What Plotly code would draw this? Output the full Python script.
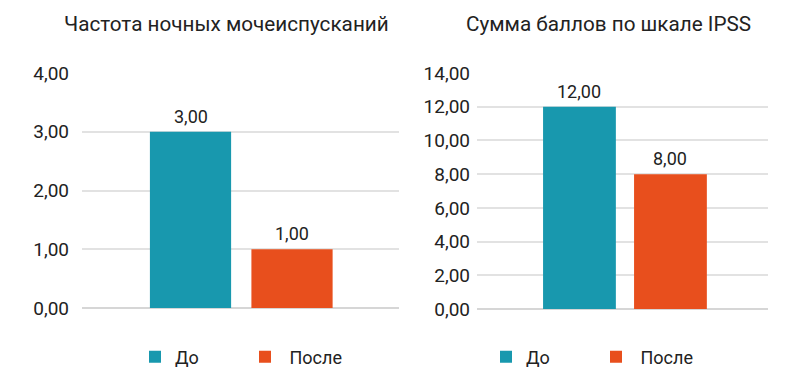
import plotly.graph_objects as go

categories = ["До", "После"]
night_values = [3, 1]
ipss_values = [12, 8]
colors = ["#1898AE", "#E84F1D"]
titles = ["Частота ночных мочеиспусканий", "Сумма баллов по шкале IPSS"]
left_ticks = [0, 1, 2, 3, 4]
right_ticks = [0, 2, 4, 6, 8, 10, 12, 14]

W, H = 806, 386
OFF = 8  # page body margin offset
FONT = "Roboto, Arial, sans-serif"
TXT = "#222222"


def px(x):
    return (x - OFF) / W


def py(y):
    return 1 - (y - OFF) / H


def fmt(v):
    return f"{v:.2f}".replace(".", ",")


def legend_name(i, cat):
    return cat if i == 0 else "\u00a0" + cat


fig = go.Figure()

for i, (cat, col) in enumerate(zip(categories, colors)):
    fig.add_trace(go.Bar(x=[cat], y=[night_values[i]], name=legend_name(i, cat), marker_color=col,
                         xaxis="x", yaxis="y", legend="legend", hoverinfo="skip"))
    fig.add_trace(go.Bar(x=[cat], y=[ipss_values[i]], name=legend_name(i, cat), marker_color=col,
                         xaxis="x2", yaxis="y2", legend="legend2", hoverinfo="skip"))

annotations = []
for cat, v in zip(categories, night_values):
    annotations.append(dict(x=cat, y=v, xref="x", yref="y", text=fmt(v), showarrow=False,
                            yanchor="bottom", yshift=3, font=dict(size=18, color=TXT, family=FONT)))
for cat, v in zip(categories, ipss_values):
    annotations.append(dict(x=cat, y=v, xref="x2", yref="y2", text=fmt(v), showarrow=False,
                            yanchor="bottom", yshift=3, font=dict(size=18, color=TXT, family=FONT)))

annotations.append(dict(x=px(226), y=py(24), xref="paper", yref="paper", text=titles[0],
                        showarrow=False, xanchor="center", yanchor="middle",
                        font=dict(size=20.7, color=TXT, family=FONT)))
annotations.append(dict(x=px(608.5), y=py(24), xref="paper", yref="paper", text=titles[1],
                        showarrow=False, xanchor="center", yanchor="middle",
                        font=dict(size=20.7, color=TXT, family=FONT)))

grid = dict(showgrid=True, gridcolor="#E2E2E2", gridwidth=1.5, zeroline=True,
            zerolinecolor="#D6D6D6", zerolinewidth=2, showline=False, ticks="",
            tickfont=dict(size=19, color=TXT, family=FONT), fixedrange=True, automargin=False)

fig.update_layout(
    template="none",
    width=W, height=H,
    margin=dict(l=0, r=0, t=0, b=0, pad=0, autoexpand=False),
    paper_bgcolor="white", plot_bgcolor="white",
    barmode="overlay", bargap=0.2,
    showlegend=True,
    annotations=annotations,
    xaxis=dict(domain=[px(82), px(399)], range=[-1.069, 2.054], showticklabels=False,
               showgrid=False, zeroline=False, showline=False, ticks="", type="category",
               anchor="y", automargin=False),
    yaxis=dict(domain=[py(308), py(73)], range=[0, 4], tickvals=left_ticks,
               ticktext=[fmt(t) for t in left_ticks], ticklabelstandoff=12, anchor="x", **grid),
    xaxis2=dict(domain=[px(477), px(768)], range=[-1.126, 2.072], showticklabels=False,
                showgrid=False, zeroline=False, showline=False, ticks="", type="category",
                anchor="y2", automargin=False),
    yaxis2=dict(domain=[py(309), py(73)], range=[0, 14], tickvals=right_ticks,
                ticktext=[fmt(t) for t in right_ticks], ticklabelstandoff=6, anchor="x2", **grid),
    legend=dict(orientation="h", x=px(135), y=py(357), xanchor="left", yanchor="middle",
                font=dict(size=18, color=TXT, family=FONT), entrywidth=65, entrywidthmode="pixels",
                bgcolor="rgba(0,0,0,0)", borderwidth=0),
    legend2=dict(orientation="h", x=px(486), y=py(357), xanchor="left", yanchor="middle",
                 font=dict(size=18, color=TXT, family=FONT), entrywidth=65, entrywidthmode="pixels",
                 bgcolor="rgba(0,0,0,0)", borderwidth=0),
)

fig.write_html("out.html")
